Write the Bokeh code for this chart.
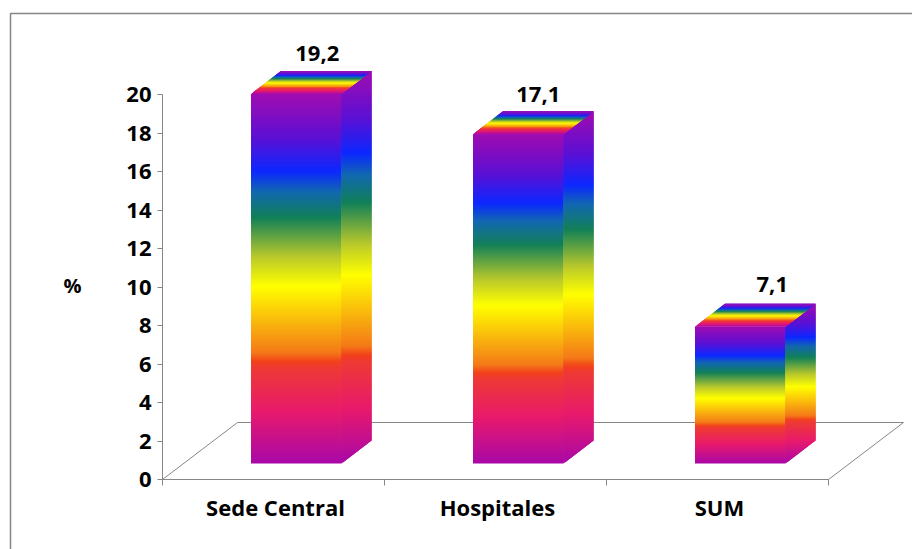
from bokeh.plotting import figure
from bokeh.embed import file_html
from bokeh.resources import INLINE
from bokeh.models import Range1d, FixedTicker, BoxAnnotation, Label
from bokeh.core.properties import value

# ---- data ----
categories = ["Sede Central", "Hospitales", "SUM"]
values = [19.2, 17.1, 7.1]
labels = ["19,2", "17,1", "7,1"]
y_ticks = list(range(0, 21, 2))

# ---- gradient (position, colour) bottom to top ----
STOPS = [(0.0, "#A808A8"), (0.14, "#E81A6C"), (0.26, "#EE3A34"), (0.275, "#F2401C"),
         (0.30, "#F47A18"), (0.48, "#FFFF00"), (0.56, "#B8C82C"), (0.665, "#128058"),
         (0.735, "#1268B0"), (0.79, "#0C28FF"), (0.88, "#5C10D4"), (1.0, "#A00CB0")]

# ---- layout: pixel geometry converted to data units ----
W, H = 912, 549
PX_X0, PX_Y0 = 162, 479              # axis origin inside the canvas
PX_CAT, PX_UNIT = 222.0, 19.25       # px per category / per y unit
sx = lambda px: px / PX_CAT
sy = lambda px: px / PX_UNIT
FLOOR_DX, FLOOR_DY = sx(75), sy(57)
BAR_OFF, BAR_W = sx(88.5), sx(90.5)
BAR_BASE = sy(16)
DEP_DX, DEP_DY = sx(30), sy(23)
LABEL_DX = [21, 20, 32]              # px from front-face centre to value label
LABEL_DY = [40, 40, 42]              # px above the front-face top

AXIS = "#868686"
FONT = "Open Sans"

p = figure(width=W, height=H, output_backend="svg", toolbar_location=None,
           x_range=Range1d(-PX_X0 / PX_CAT, (W - PX_X0) / PX_CAT),
           y_range=Range1d(-(H - PX_Y0) / PX_UNIT, PX_Y0 / PX_UNIT),
           min_border=0, min_border_left=0, min_border_right=0,
           min_border_top=0, min_border_bottom=0)
p.outline_line_color = None
p.grid.visible = False
p.background_fill_color = "white"
p.border_fill_color = "white"


def hex2rgb(c):
    return tuple(int(c[i:i + 2], 16) for i in (1, 3, 5))


def grad(t):
    t = max(0.0, min(1.0, t))
    for (a, ca), (b, cb) in zip(STOPS, STOPS[1:]):
        if t <= b:
            f = (t - a) / (b - a)
            ra, rb = hex2rgb(ca), hex2rgb(cb)
            return "#%02x%02x%02x" % tuple(round(u + (v - u) * f) for u, v in zip(ra, rb))
    return STOPS[-1][1]


def clip(poly, y0, y1):
    def half(pts, keep, cross):
        out = []
        for i in range(len(pts)):
            a, b = pts[i], pts[(i + 1) % len(pts)]
            if keep(a):
                out.append(a)
            if keep(a) != keep(b):
                t = (cross - a[1]) / (b[1] - a[1])
                out.append((a[0] + t * (b[0] - a[0]), cross))
        return out
    pts = half(poly, lambda q: q[1] >= y0, y0)
    if pts:
        pts = half(pts, lambda q: q[1] <= y1, y1)
    return pts


def gradient_poly(poly, xs, ys, cs):
    lo = min(q[1] for q in poly)
    hi = max(q[1] for q in poly)
    n = max(2, int(round((hi - lo) * PX_UNIT)))
    overlap = sy(2)                  # each strip runs under the next one, so no seams show
    for i in range(n):
        y0 = lo + (hi - lo) * i / n
        y1 = lo + (hi - lo) * (i + 1) / n + overlap
        pts = clip(poly, y0, min(y1, hi))
        if len(pts) >= 3:
            xs.append([q[0] for q in pts])
            ys.append([q[1] for q in pts])
            cs.append(grad((i + 0.5) / n))


# floor
p.line([0, FLOOR_DX, 3 + FLOOR_DX, 3], [0, FLOOR_DY, FLOOR_DY, 0],
       line_color=AXIS, line_width=1)

# bars
xs, ys, cs = [], [], []
for i, v in enumerate(values):
    x0 = i + BAR_OFF
    x1 = x0 + BAR_W
    top = BAR_BASE + v
    gradient_poly([(x0, BAR_BASE), (x1, BAR_BASE), (x1, top), (x0, top)], xs, ys, cs)
    gradient_poly([(x1, BAR_BASE), (x1 + DEP_DX, BAR_BASE + DEP_DY),
                   (x1 + DEP_DX, top + DEP_DY), (x1, top)], xs, ys, cs)
    gradient_poly([(x0, top), (x1, top), (x1 + DEP_DX, top + DEP_DY),
                   (x0 + DEP_DX, top + DEP_DY)], xs, ys, cs)
p.patches(xs, ys, fill_color=cs, line_color=None, fill_alpha=1.0)

# value labels
p.text([i + BAR_OFF + BAR_W / 2 + sx(LABEL_DX[i]) for i in range(3)],
       [BAR_BASE + v + sy(LABEL_DY[i]) for i, v in enumerate(values)],
       text=labels, text_align="center", text_baseline="alphabetic",
       text_font=value(FONT), text_font_style="bold", text_font_size="22px",
       text_color="black")

# axes
label_ticks = [0.509, 1.509, 2.509]
xa = p.xaxis[0]
xa.fixed_location = 0
xa.bounds = (0, 3)
xa.ticker = FixedTicker(ticks=label_ticks, minor_ticks=[0, 1, 2, 3])
xa.major_label_overrides = dict(zip(label_ticks, categories))
xa.major_tick_line_color = None
xa.major_tick_in = 0
xa.major_tick_out = 0
xa.minor_tick_in = 0
xa.minor_tick_out = 6
xa.minor_tick_line_color = AXIS
xa.axis_line_color = AXIS
xa.major_label_standoff = 6
xa.major_label_text_font = FONT
xa.major_label_text_font_style = "bold"
xa.major_label_text_font_size = "22px"
xa.major_label_text_color = "black"

ya = p.yaxis[0]
ya.fixed_location = 0
ya.bounds = (0, 20)
ya.ticker = FixedTicker(ticks=y_ticks)
ya.minor_tick_line_color = None
ya.major_tick_in = 0
ya.major_tick_out = 5
ya.major_tick_line_color = AXIS
ya.axis_line_color = AXIS
ya.major_label_standoff = 6
ya.major_label_text_font = FONT
ya.major_label_text_font_style = "bold"
ya.major_label_text_font_size = "22px"
ya.major_label_text_color = "black"

# chart frame and the unit label
p.add_layout(BoxAnnotation(left=10, right=W + 20, top=13, bottom=H + 20,
                           left_units="canvas", right_units="canvas",
                           top_units="canvas", bottom_units="canvas",
                           fill_color=None, fill_alpha=0,
                           line_color=AXIS, line_alpha=1.0, line_width=1.5))
p.add_layout(Label(x=63, y=285, x_units="canvas", y_units="canvas", text="%",
                   text_font=FONT, text_font_style="bold", text_font_size="20px",
                   text_color="black", text_baseline="alphabetic"))

open("out.html", "w").write(file_html(p, INLINE))
